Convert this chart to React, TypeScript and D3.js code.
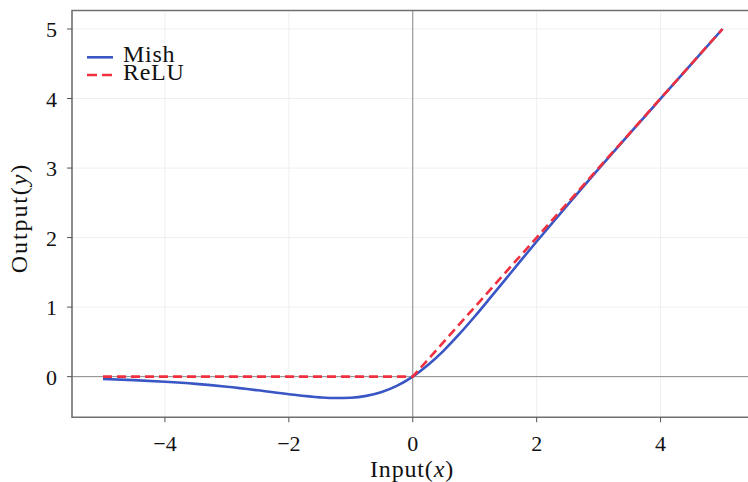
import React from "react";
import * as d3 from "d3";

const mishX = [-5, -4.5, -4, -3.5, -3, -2.5, -2, -1.5, -1.25, -1, -0.75, -0.5, -0.25, 0, 0.25, 0.5, 0.75, 1, 1.25, 1.5, 1.75, 2, 2.5, 3, 3.5, 4, 4.5, 5];
const mishY = [-0.034, -0.05, -0.073, -0.104, -0.146, -0.197, -0.253, -0.298, -0.308, -0.303, -0.277, -0.221, -0.13, 0, 0.17, 0.375, 0.61, 0.865, 1.132, 1.403, 1.675, 1.944, 2.471, 2.987, 3.494, 3.997, 4.499, 5.0];
const reluX = [-5, 0, 5];
const reluY = [0, 0, 5];
const xTicks = [-4, -2, 0, 2, 4];
const yTicks = [0, 1, 2, 3, 4, 5];
const seriesNames = ["Mish", "ReLU"];

const W = 748, H = 482;
const L = 72, R = 753.5, T = 10.5, B = 417.3;

export default function App() {
  const x = d3.scaleLinear().domain([-5.5, 5.5]).range([L, R]);
  const y = d3.scaleLinear().domain([-0.585, 5.266]).range([B, T]);
  const smooth = d3.line<[number, number]>().x(d => x(d[0])).y(d => y(d[1])).curve(d3.curveMonotoneX);
  const straight = d3.line<[number, number]>().x(d => x(d[0])).y(d => y(d[1])).curve(d3.curveLinear);
  const mish = mishX.map((v, i) => [v, mishY[i]] as [number, number]);
  const relu = reluX.map((v, i) => [v, reluY[i]] as [number, number]);
  const fs = { fontFamily: "Liberation Serif" };
  const fmt = (v: number) => (v < 0 ? "\u2212" + Math.abs(v) : String(v));
  const blue = "#3a56c4";
  const red = "#f0303f";
  const ink = "#111";
  return (
    <svg width={W} height={H} style={{ position: "absolute", left: 0, top: 0, background: "#fff", fontFamily: "Liberation Serif" }}>
      <defs>
        <clipPath id="clip"><rect x={L} y={T} width={R - L} height={B - T} /></clipPath>
      </defs>
      {xTicks.map(t => (
        <line key={"gx" + t} x1={x(t)} x2={x(t)} y1={T} y2={B} stroke="#efefef" strokeWidth={1} />
      ))}
      {yTicks.map(t => (
        <line key={"gy" + t} x1={L} x2={R} y1={y(t)} y2={y(t)} stroke="#efefef" strokeWidth={1} />
      ))}
      <line x1={L} x2={R} y1={y(0)} y2={y(0)} stroke="#8a8a8a" strokeWidth={1} />
      <line x1={x(0)} x2={x(0)} y1={T} y2={B} stroke="#8a8a8a" strokeWidth={1} />
      <g clipPath="url(#clip)">
        <path d={smooth(mish) || ""} fill="none" stroke={blue} strokeWidth={2.6} />
        <path d={straight(relu) || ""} fill="none" stroke={red} strokeWidth={2.6} strokeDasharray="9,5" />
      </g>
      <path d={`M${R},${T}H${L}V${B}H${R}`} fill="none" stroke="#707070" strokeWidth={1.6} />
      {xTicks.map(t => (
        <g key={"tx" + t}>
          <line x1={x(t)} x2={x(t)} y1={B} y2={B + 5} stroke="#555" strokeWidth={1} />
          <text x={x(t)} y={450.5} textAnchor="middle" fontSize={22} fill={ink} style={fs}>{fmt(t)}</text>
        </g>
      ))}
      {yTicks.map(t => (
        <g key={"ty" + t}>
          <line x1={L - 5} x2={L} y1={y(t)} y2={y(t)} stroke="#555" strokeWidth={1} />
          <text x={57} y={y(t) + 8} textAnchor="end" fontSize={22} fill={ink} style={fs}>{fmt(t)}</text>
        </g>
      ))}
      <text x={412} y={477} textAnchor="middle" fontSize={24} letterSpacing={0.85} fill={ink} style={fs}>
        Input(<tspan fontStyle="italic">x</tspan>)
      </text>
      <text transform={`translate(27,218) rotate(-90)`} textAnchor="middle" fontSize={24} letterSpacing={1.9} fill={ink} style={fs}>
        Output(<tspan fontStyle="italic">y</tspan>)
      </text>
      <g>
        <line x1={87} x2={113} y1={57.3} y2={57.3} stroke={blue} strokeWidth={2.6} />
        <text x={123} y={62} fontSize={24} letterSpacing={0.7} fill={ink} style={fs}>{seriesNames[0]}</text>
        <line x1={87} x2={113} y1={75} y2={75} stroke={red} strokeWidth={2.6} strokeDasharray="10,5" />
        <text x={123} y={80} fontSize={24} letterSpacing={0.7} fill={ink} style={fs}>{seriesNames[1]}</text>
      </g>
    </svg>
  );
}
